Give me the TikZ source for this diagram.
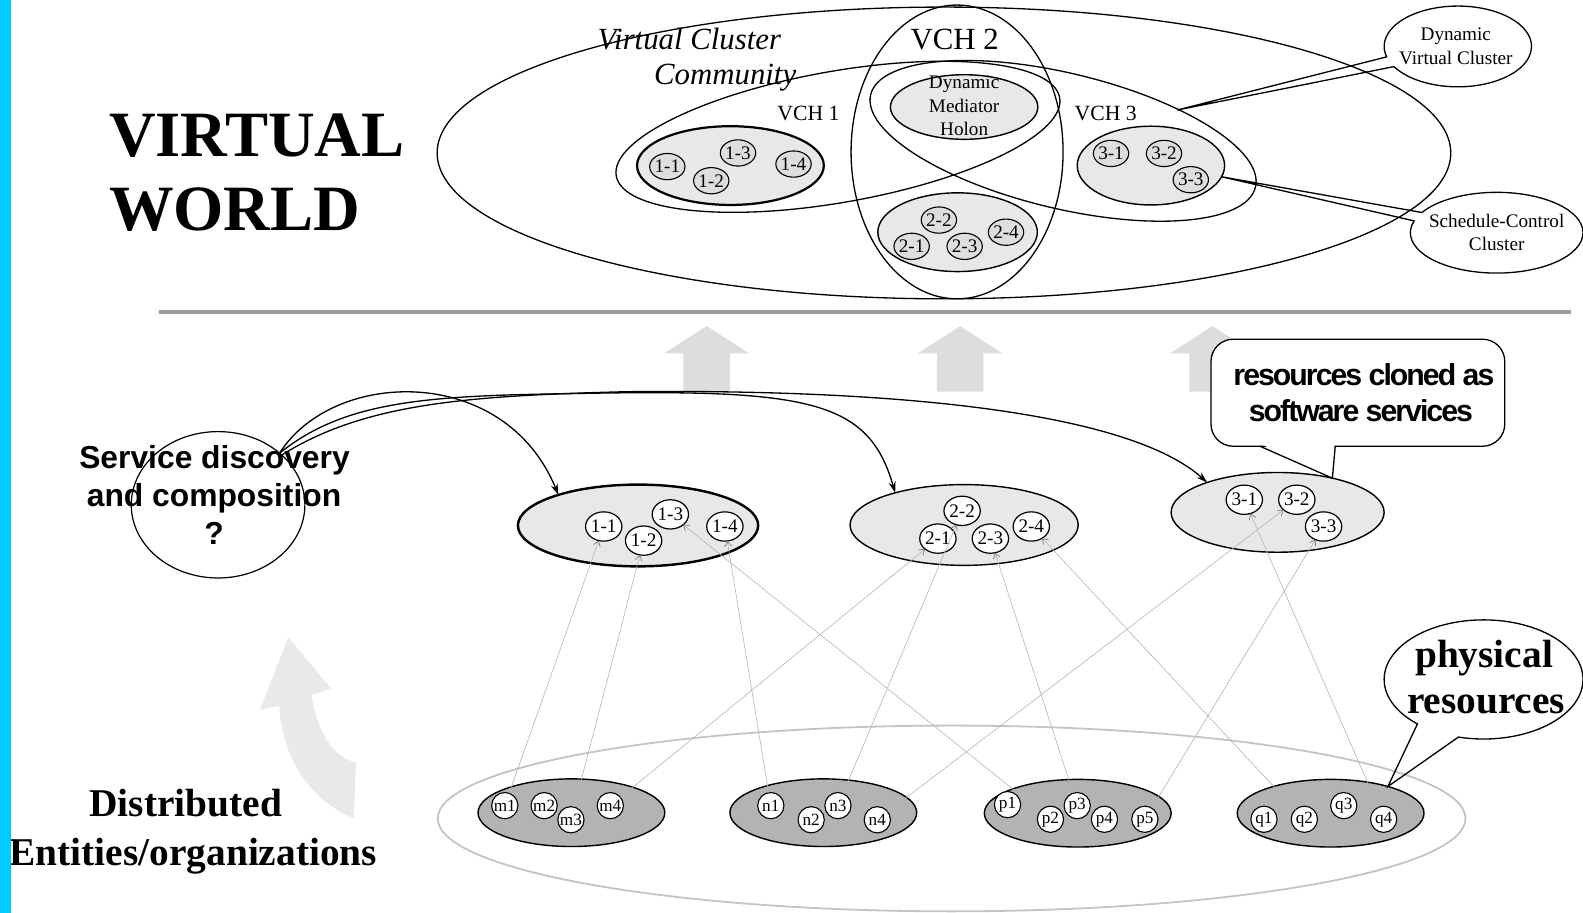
\documentclass[tikz,border=0pt]{standalone}
\usepackage{fontspec}
\setmainfont{Liberation Serif}
\newfontfamily\headsans{Liberation Sans}
\newfontfamily\packedsans[LetterSpace=-6.6]{Liberation Sans}
\usetikzlibrary{shapes.geometric,shapes.callouts,arrows.meta}
\newcommand\fsz[2]{\fontsize{#1}{#2}\selectfont}

\definecolor{sidebar}{HTML}{00CCFF}
\definecolor{lightfill}{HTML}{E8E8E8}
\definecolor{nodefill}{HTML}{DEDEDE}
\definecolor{darkfill}{HTML}{B3B3B3}
\definecolor{rulegray}{HTML}{9C9C9C}
\definecolor{blockgray}{HTML}{DDDDDD}
\definecolor{ringgray}{HTML}{C4C4C4}
\definecolor{linkgray}{HTML}{B4B4B4}
\definecolor{tipgray}{HTML}{707070}
\definecolor{swirlgray}{HTML}{E9E9E9}

\begin{document}
\begin{tikzpicture}[x=1pt, y=-1pt,
  every node/.style={inner sep=0pt, outer sep=0pt},
  ln/.style={line width=1.3pt},
  vclu/.style={draw, ellipse, line width=1.4pt, fill=lightfill},
  vnode/.style={draw, ellipse, line width=1.1pt, fill=nodefill, minimum width=35, minimum height=26, inner xsep=-4pt, font={\fsz{19}{22}}},
  snode/.style={draw, ellipse, line width=1.2pt, fill=white, minimum width=36, minimum height=29, inner xsep=-4pt, font={\fsz{19}{22}}},
  rclu/.style={draw, ellipse, line width=1.4pt, fill=darkfill, minimum width=185, minimum height=67},
  rnode/.style={draw, ellipse, line width=1.1pt, fill=white, minimum width=26, minimum height=26, inner xsep=-4pt, font={\fsz{17}{20}}},
  feed/.style={draw=linkgray, line width=0.6pt, -{Straight Barb[length=5pt,width=7pt,color=tipgray]}},
  servarrow/.style={line width=1.3pt, -{Stealth[length=11pt,width=7pt]}},
  bubble/.style={draw, ellipse callout, line width=1.3pt},
  txt/.style={anchor=base},
  blockup/.pic={\fill[blockgray] (-23,65) -- (-23,27) -- (-42,27) -- (0,0) -- (42,27) -- (23,27) -- (23,65) -- cycle;}
]
\useasboundingbox (0,0) rectangle (1568,904);

% ---------- curved hint arrow, lower left ----------
\fill[swirlgray] (350.5,810.5) .. controls (300,790) and (278,740) .. (276.7,699.3)
  -- (257.5,703) -- (285.6,631.3) -- (327.9,681.8) -- (308.7,688.4)
  .. controls (314,725) and (330,750) .. (352.6,755.4) -- cycle;

% ---------- virtual world ----------
\node[anchor=base west, font={\bfseries\fsz{64}{74}}] (vw1) at (108,155) {VIRTUAL};
\node[anchor=base west, font={\bfseries\fsz{64}{74}}] (vw2) at (108,228) {WORLD};

\draw[ln] (935,151.5) ellipse [x radius=502, y radius=144.5];
\draw[ln] (948,150.5) ellipse [x radius=105, y radius=145.5];
\draw[ln, rotate around={10:(830,135.5)}] (830,135.5) ellipse [x radius=223, y radius=65];
\draw[ln, rotate around={-13.5:(1053,139.5)}] (1053,139.5) ellipse [x radius=196, y radius=67];

\node[anchor=base west, font={\itshape\fsz{30.5}{36}}] (vcc1) at (592,49) {Virtual Cluster};
\node[anchor=base west, font={\itshape\fsz{30.5}{36}}] (vcc2) at (648,84) {Community};
\node[anchor=base west, font={\fsz{30.5}{36}}] (vch2) at (902,48.8) {VCH 2};
\node[anchor=base west, font={\fsz{21.5}{26}}] (vch1) at (770,119.5) {VCH 1};
\node[anchor=base west, font={\fsz{21.5}{26}}] (vch3) at (1064.5,119) {VCH 3};

% mediator holon
\node[vclu, minimum width=146, minimum height=64] (med) at (955,106) {};
\node[txt, font={\fsz{19}{23}}] (medA) at (955,87.5) {Dynamic};
\node[txt, font={\fsz{19}{23}}] (medB) at (955,111) {Mediator};
\node[txt, font={\fsz{19}{23}}] (medC) at (955,134.5) {Holon};

% virtual clusters
\node[vclu, line width=2.2pt, minimum width=185, minimum height=78] (tc1) at (723.5,164) {};
\node[vnode] (t11) at (661,165) {1-1};
\node[vnode] (t12) at (704.5,179) {1-2};
\node[vnode] (t13) at (731,151.5) {1-3};
\node[vnode] (t14) at (786,162.5) {1-4};

\node[vclu, minimum width=158, minimum height=78] (tc2) at (948.5,230) {};
\node[vnode] (t22) at (930,218) {2-2};
\node[vnode] (t21) at (903,244) {2-1};
\node[vnode] (t23) at (955.5,244) {2-3};
\node[vnode] (t24) at (996.5,230) {2-4};

\node[vclu, minimum width=146, minimum height=78] (tc3) at (1140,164) {};
\node[vnode] (t31) at (1100.5,152) {3-1};
\node[vnode] (t32) at (1153,152) {3-2};
\node[vnode] (t33) at (1179.5,178) {3-3};

% call-outs on the virtual world
\node[bubble, minimum width=146, minimum height=80, callout absolute pointer={(1166,109)}, callout pointer arc=15] (dvc) at (1444,46) {};
\node[txt, font={\fsz{19}{23}}] (dvcA) at (1442,40.5) {Dynamic};
\node[txt, font={\fsz{19}{23}}] (dvcB) at (1442,63.7) {Virtual Cluster};

\node[bubble, minimum width=171, minimum height=80, callout absolute pointer={(tc3.-9)}, callout pointer arc=13] (scc) at (1482.5,230.5) {};
\node[txt, font={\fsz{19}{23}}] (sccA) at (1482.5,225) {Schedule-Control};
\node[txt, font={\fsz{19}{23}}] (sccB) at (1482.5,248) {Cluster};

% ---------- separator ----------
\draw[rulegray, line width=3.6pt] (157,309) -- (1556,309);

% ---------- cloning arrows ----------
\pic at (700,323) {blockup};
\pic at (951,323) {blockup};
\pic at (1201,323) {blockup};

% ---------- service clusters ----------
\node[vclu, line width=2.4pt, minimum width=238, minimum height=81] (sc1) at (632,520.5) {};
\node[snode] (s11) at (598,521.5) {1-1};
\node[snode] (s12) at (637.5,535.5) {1-2};
\node[snode] (s13) at (664,509.5) {1-3};
\node[snode] (s14) at (718,521.5) {1-4};

\node[vclu, minimum width=226, minimum height=80] (sc2) at (955,520) {};
\node[snode] (s22) at (953,506) {2-2};
\node[snode] (s21) at (929,533.5) {2-1};
\node[snode] (s23) at (981,533.5) {2-3};
\node[snode] (s24) at (1021.5,521.5) {2-4};

\node[vclu, minimum width=211, minimum height=79] (sc3) at (1265.5,507.5) {};
\node[snode] (s31) at (1232.5,495) {3-1};
\node[snode] (s32) at (1284.5,495) {3-2};
\node[snode] (s33) at (1311,521.5) {3-3};

% speech box
\node[draw, rounded corners=22, line width=1.3pt, fill=white, minimum width=291, minimum height=106] (rcb) at (1345,389) {};
\fill[white] (1249,439.7) -- (1322,439.7) -- (sc3.32) -- cycle;
\draw[line width=1.3pt] (1248,442) -- (sc3.32) -- (1322.6,442);
\node[txt, font={\packedsans\bfseries\fsz{30}{36}}] (rcbA) at (1351,382) {resources cloned as};
\node[txt, font={\packedsans\bfseries\fsz{30}{36}}] (rcbB) at (1348,417.5) {software services};

% service discovery
\node[draw, ellipse, line width=1.2pt, minimum width=172, minimum height=145] (sd) at (216,500) {};
\node[txt, font={\headsans\bfseries\fsz{31.5}{38}}] (sdA) at (212.5,464) {Service discovery};
\node[txt, font={\headsans\bfseries\fsz{31.5}{38}}] (sdB) at (212,502) {and composition};
\node[txt, font={\headsans\bfseries\fsz{31.5}{38}}] (sdC) at (212,539) {?};

\draw[servarrow] (sd.40) .. controls (330,365) and (500,360) .. (sc1.159);
\draw[servarrow] (sd.40) .. controls (340,398) and (420,392) .. (560,390)
  .. controls (800,385) and (860,395) .. (sc2.155);
\draw[servarrow] (sd.38) .. controls (360,400) and (460,392) .. (620,388)
  .. controls (900,385) and (1120,410) .. (sc3.157);

% ---------- physical resources ----------
\draw[ringgray, line width=1.8pt] (942.6,810.7) ellipse [x radius=509, y radius=92];

\node[rclu] (rm) at (566,805) {};
\node[rnode] (m1) at (500,798) {m1};
\node[rnode] (m2) at (539,798) {m2};
\node[rnode] (m3) at (565.5,812) {m3};
\node[rnode] (m4) at (604.5,798) {m4};

\node[rclu] (rn) at (815.5,805) {};
\node[rnode] (n1) at (763.5,798) {n1};
\node[rnode] (n2) at (803.5,812) {n2};
\node[rnode] (n3) at (830,798) {n3};
\node[rnode] (n4) at (869,812) {n4};

\node[rclu] (rp) at (1067.5,805.5) {};
\node[rnode] (p1) at (998,797) {p1};
\node[rnode] (p2) at (1040.5,811.5) {p2};
\node[rnode] (p3) at (1067,798) {p3};
\node[rnode] (p4) at (1094,811.5) {p4};
\node[rnode] (p5) at (1134,811.5) {p5};

\node[rclu] (rq) at (1318,805.5) {};
\node[rnode] (q1) at (1252,811.5) {q1};
\node[rnode] (q2) at (1292,811.5) {q2};
\node[rnode] (q3) at (1331,798) {q3};
\node[rnode] (q4) at (1370.5,811.5) {q4};

% resources feeding services
\draw[feed] (m1) -- (s11);
\draw[feed] (m3) -- (s12);
\draw[feed] (m4) -- (s21);
\draw[feed] (n1) -- (s14);
\draw[feed] (n3) -- (s22);
\draw[feed] (n4) -- (s32);
\draw[feed] (p2) -- (s13);
\draw[feed] (p3) -- (s23);
\draw[feed] (p5) -- (s33);
\draw[feed] (q2) -- (s24);
\draw[feed] (q4) -- (s31);

\node[bubble, minimum width=197, minimum height=118, callout absolute pointer={(rq.25)}, callout pointer arc=27] (phy) at (1469.5,673) {};
\node[txt, font={\bfseries\fsz{39}{46}}] (phyA) at (1470,661) {physical};
\node[txt, font={\bfseries\fsz{39}{46}}] (phyB) at (1472,706.5) {resources};

% ---------- distributed entities ----------
\node[txt, font={\bfseries\fsz{39}{47}}] (deA) at (184,809) {Distributed};
\node[anchor=base east, font={\bfseries\fsz{39}{47}}] (deB) at (373.5,857) {Entities/organizations};

\fill[sidebar] (0,0) rectangle (10.5,904);
\end{tikzpicture}
\end{document}
